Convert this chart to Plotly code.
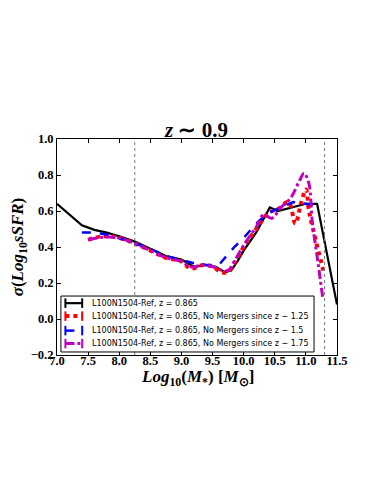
import plotly.graph_objects as go

# sigma(log10 sSFR) vs stellar mass, z ~ 0.9
black_x = [7.0, 7.2, 7.4, 7.6, 7.8, 8.0, 8.25, 8.5, 8.75, 9.0, 9.2, 9.4, 9.55, 9.7,
           9.8, 9.9, 10.0, 10.2, 10.42, 10.55, 10.8, 11.0, 11.18, 11.5]
black_y = [0.64, 0.58, 0.52, 0.495, 0.48, 0.46, 0.43, 0.39, 0.35, 0.33, 0.29, 0.30, 0.29, 0.26,
           0.27, 0.32, 0.38, 0.48, 0.62, 0.60, 0.62, 0.64, 0.64, 0.08]

red_x = [7.5, 7.75, 8.0, 8.25, 8.5, 8.75, 9.0, 9.15, 9.35, 9.5, 9.65, 9.75, 9.85, 10.0,
         10.2, 10.4, 10.55, 10.72, 10.83, 10.92, 11.0, 11.05, 11.15, 11.28]
red_y = [0.44, 0.46, 0.45, 0.42, 0.38, 0.34, 0.32, 0.28, 0.30, 0.29, 0.26, 0.26, 0.31, 0.40,
         0.50, 0.59, 0.61, 0.65, 0.53, 0.64, 0.72, 0.60, 0.45, 0.27]

blue_x = [7.4, 7.6, 7.8, 8.0, 8.25, 8.5, 8.75, 9.0, 9.2, 9.4, 9.6, 9.85, 10.0, 10.2,
          10.4, 10.6, 10.8, 11.0, 11.18]
blue_y = [0.48, 0.48, 0.47, 0.45, 0.42, 0.39, 0.35, 0.33, 0.31, 0.30, 0.30, 0.40, 0.45, 0.53,
          0.59, 0.62, 0.65, 0.64, 0.63]

mag_x = [7.5, 7.75, 8.0, 8.25, 8.5, 8.75, 9.0, 9.15, 9.35, 9.5, 9.65, 9.75, 9.85, 10.0,
         10.2, 10.32, 10.45, 10.6, 10.75, 10.9, 10.97, 11.05, 11.1, 11.2, 11.27]
mag_y = [0.44, 0.455, 0.45, 0.42, 0.38, 0.34, 0.32, 0.29, 0.30, 0.29, 0.27, 0.27, 0.32, 0.41,
         0.51, 0.58, 0.56, 0.62, 0.67, 0.77, 0.81, 0.75, 0.55, 0.30, 0.12]

vlines = [8.25, 11.3]

labels = [
    "L100N1504-Ref, z = 0.865",
    "L100N1504-Ref, z = 0.865, No Mergers since z ∼ 1.25",
    "L100N1504-Ref, z = 0.865, No Mergers since z ∼ 1.5",
    "L100N1504-Ref, z = 0.865, No Mergers since z ∼ 1.75",
]

serif = "Liberation Serif"
styles = [
    dict(color="black", width=2.2, dash="solid"),
    dict(color="red", width=4, dash="dot"),
    dict(color="blue", width=2.5, dash="dash"),
    dict(color="#c000c0", width=3, dash="dashdot"),
]

fig = go.Figure()
series = [(black_x, black_y, "linear"), (red_x, red_y, "spline"),
          (blue_x, blue_y, "linear"), (mag_x, mag_y, "spline")]
for (xs, ys, shp), st, name in zip(series, styles, labels):
    fig.add_trace(go.Scatter(x=xs, y=ys, mode="lines", name=name,
                             line=dict(shape=shp, **st)))

for v in vlines:
    fig.add_shape(type="line", x0=v, x1=v, y0=0, y1=1, xref="x", yref="paper",
                  line=dict(color="#777", width=1, dash="dot"))

# hand made legend box (plotly's own legend rows are too tall here)
lx0, lx1, ly0, ly1 = 0.014, 0.918, 0.014, 0.273
row_y = [0.240, 0.180, 0.113, 0.053]
fig.add_shape(type="rect", xref="paper", yref="paper", x0=lx0, x1=lx1, y0=ly0, y1=ly1,
              fillcolor="white", line=dict(color="black", width=1), layer="above")
for ry, st, name in zip(row_y, styles, labels):
    fig.add_shape(type="line", xref="paper", yref="paper", x0=0.03, x1=0.09, y0=ry, y1=ry,
                  line=dict(color=st["color"], width=st["width"], dash=st["dash"]), layer="above")
    for cx in (0.03, 0.09):
        fig.add_shape(type="line", xref="paper", yref="paper", x0=cx, x1=cx,
                      y0=ry - 0.022, y1=ry + 0.022,
                      line=dict(color=st["color"], width=2), layer="above")
    fig.add_annotation(text=name, xref="paper", yref="paper", x=0.118, y=ry,
                       xanchor="left", yanchor="middle", showarrow=False,
                       font=dict(family="DejaVu Sans", size=8, color="black"))

axis_common = dict(showgrid=False, zeroline=False, showline=True, linecolor="black",
                   linewidth=1, mirror="ticks", ticks="inside", ticklen=4,
                   tickcolor="black", automargin=False,
                   tickfont=dict(family=serif, size=12.5, color="black", weight="bold"))

fig.update_xaxes(range=[7.0, 11.5], dtick=0.5, tickformat=".1f", ticklabelstandoff=-6,
                 **axis_common)
fig.update_yaxes(range=[-0.2, 1.0], dtick=0.2, tickformat=".1f",
                 title=dict(text="<b><i>σ</i>(<i>Log</i><sub>10</sub><i>sSFR</i>)</b>",
                            font=dict(family=serif, size=17, color="black"), standoff=6),
                 **axis_common)

# x axis title placed by hand, closer to the tick labels
fig.add_annotation(text="<b><i>Log</i><sub>10</sub>(<i>M</i><sub>*</sub>) [<i>M</i><sub>⊙</sub>]</b>",
                   xref="paper", yref="paper", x=0.5, y=-0.108, xanchor="center",
                   yanchor="middle", showarrow=False,
                   font=dict(family=serif, size=17, color="black"))

fig.update_layout(
    width=383, height=495,
    margin=dict(l=49, r=54, t=131, b=148),
    paper_bgcolor="white", plot_bgcolor="white",
    title=dict(text="<b><i>z</i> ∼ 0.9</b>", x=0.492, xanchor="center", y=0.755, yanchor="middle",
               font=dict(family=serif, size=21, color="black")),
    showlegend=False,
)

fig.write_html("out.html")
